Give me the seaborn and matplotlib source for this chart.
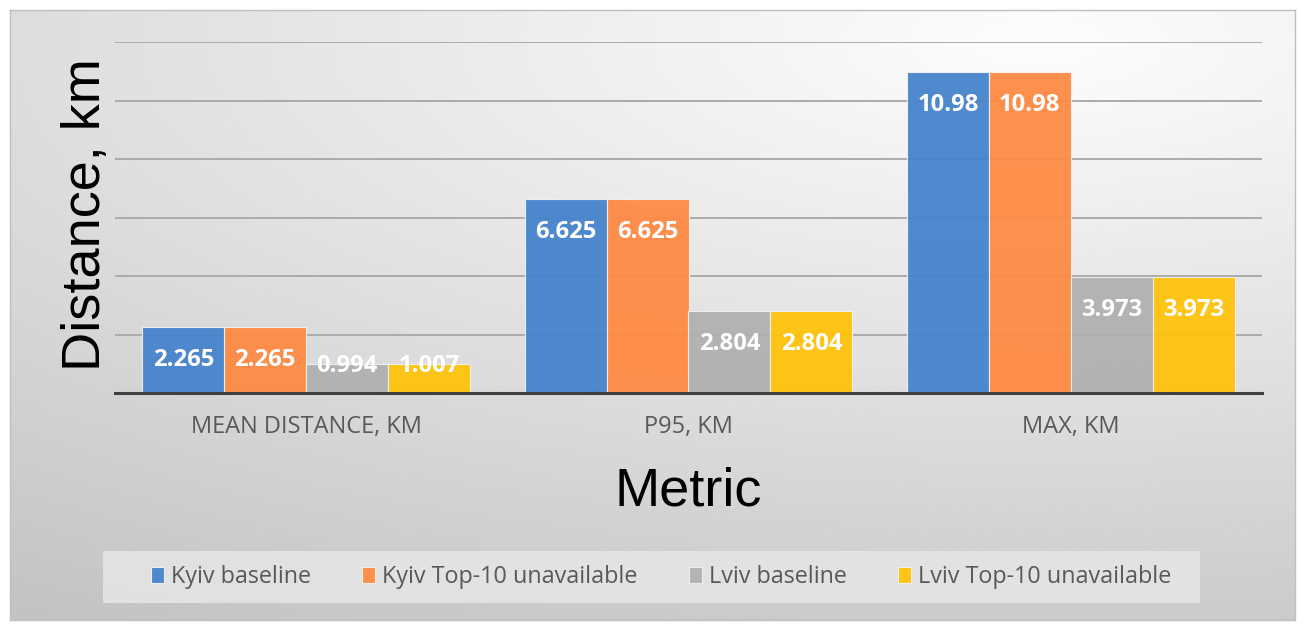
import numpy as np
import pandas as pd
import matplotlib
matplotlib.use("Agg")
import matplotlib.pyplot as plt
import seaborn as sns
from matplotlib.patches import Rectangle

# values
metrics = ["MEAN DISTANCE, KM", "P95, KM", "MAX, KM"]
scenarios = ["Kyiv baseline", "Kyiv Top-10 unavailable", "Lviv baseline", "Lviv Top-10 unavailable"]
kyiv_base = [2.265, 6.625, 10.98]
kyiv_top10 = [2.265, 6.625, 10.98]
lviv_base = [0.994, 2.804, 3.973]
lviv_top10 = [1.007, 2.804, 3.973]
colors = ["#4583cc", "#ff8a42", "#b0b0b0", "#ffc30a"]

series = [kyiv_base, kyiv_top10, lviv_base, lviv_top10]
rows = []
for name, vals in zip(scenarios, series):
    for m, v in zip(metrics, vals):
        rows.append({"Metric": m, "Distance": v, "Scenario": name})
df = pd.DataFrame(rows)

sns.set_theme(style="white")
plt.rcParams['font.family'] = ['Open Sans', 'DejaVu Sans']

W, H = 1305, 630
fig = plt.figure(figsize=(W / 100, H / 100), dpi=100)

# gradient chart-area background (Excel style)
bg = fig.add_axes([10 / W, 10 / H, 1 - 20 / W, 1 - 20 / H], zorder=-10)
yy, xx = np.mgrid[0:1:300j, 0:1:600j]
dist = np.sqrt((xx - 0.8) ** 2 + ((yy - 0.05) * 1.3) ** 2)
shade = np.clip(253 - 40 * dist, 0, 255)
bg.imshow(shade, cmap="gray", vmin=0, vmax=255, aspect="auto", origin="upper",
          extent=[0, 1, 0, 1])
bg.set_xticks([])
bg.set_yticks([])
for s in bg.spines.values():
    s.set_color("#bfbfbf")
    s.set_linewidth(1)
bg.add_patch(Rectangle((103 / W, 1 - 603 / H), 1097 / W, 52 / H, transform=fig.transFigure,
                       facecolor="#e6e6e6", edgecolor="none", alpha=0.85, clip_on=False))

ax = fig.add_axes([115 / W, 1 - 393 / H, 1147 / W, 351 / H])
ax.set_facecolor("none")
sns.barplot(data=df, x="Metric", y="Distance", hue="Scenario", palette=colors,
            width=0.857, saturation=1, alpha=0.94, edgecolor="#f2f2f2", linewidth=0.8, ax=ax)

ax.set_ylim(0, 12)
ax.set_xlim(-0.5, 2.5)
ax.set_yticks(np.arange(0, 13, 2))
ax.yaxis.grid(True, color="#ababab", linewidth=1.4)
ax.set_axisbelow(True)
ax.tick_params(axis="y", left=False, labelleft=False)
ax.tick_params(axis="x", bottom=False, pad=10, labelsize=17, labelcolor="#595959")
for s in ["top", "right", "left"]:
    ax.spines[s].set_visible(False)
ax.spines["bottom"].set_color("#404040")
ax.spines["bottom"].set_linewidth(2.2)
ax.spines["bottom"].set_zorder(5)
ax.set_xlabel("")
ax.set_ylabel("")

# data labels, inside end
for cont, vals in zip(ax.containers, series):
    for bar, v in zip(cont, vals):
        yc = max(v - 1.03, 1.0)
        ax.annotate(f"{v:g}", (bar.get_x() + bar.get_width() / 2, yc), xytext=(0, -6.3),
                    textcoords="offset points", ha="center", va="baseline",
                    color="white", fontsize=17.2, fontweight="bold", zorder=6)

fig.text(100 / W, 1 - 215 / H, "Distance, km", rotation=90, rotation_mode="anchor",
         ha="center", va="baseline", fontsize=39, family="Liberation Sans", color="black")
fig.text(688 / W, 1 - 505 / H, "Metric", ha="center", va="baseline",
         fontsize=39, family="Liberation Sans", color="black")

handles, labels = ax.get_legend_handles_labels()
ax.get_legend().remove()
fig.legend(handles, labels, loc="center", bbox_to_anchor=(661 / W, 1 - 577 / H), ncol=4,
           frameon=False, fontsize=16.8, labelcolor="#595959", handlelength=0.55,
           handleheight=0.65, handletextpad=0.3, columnspacing=2.2)

fig.savefig("out.png", dpi=100)
